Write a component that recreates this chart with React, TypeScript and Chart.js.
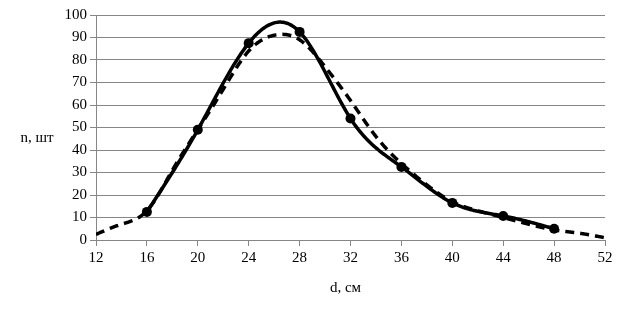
import React, { useEffect, useRef } from "react";
import { Chart, registerables } from "chart.js";

Chart.register(...registerables);

// Observed distribution (solid line with markers)
const observedD = [16, 20, 24, 28, 32, 36, 40, 44, 48];
const observedN = [12.5, 49, 87.5, 92.5, 54, 32.5, 16.5, 10.7, 5];

// Theoretical distribution (dashed line)
const theoryD = [12, 14, 16, 18, 20, 22, 24, 26, 28, 30, 32, 34, 36, 38, 40, 42, 44, 46, 48, 50, 52];
const theoryN = [2.5, 7, 13, 31, 49, 67, 84, 91, 89, 77, 62, 46, 34, 24.5, 17, 13, 10, 7, 4.5, 3, 1];

const xTicks = { min: 12, max: 52, step: 4 };
const yTicks = { min: 0, max: 100, step: 10 };

const xTitle = "d, см";
const yTitle = "n, шт";

const FONT = '"Liberation Serif", "Times New Roman", serif';
const GRID = "rgb(134,134,134)";

// natural cubic spline second derivatives
function splineM(xs: number[], ys: number[]): number[] {
  const n = xs.length;
  const M = new Array(n).fill(0);
  if (n < 3) return M;
  const a: number[] = [], b: number[] = [], c: number[] = [], d: number[] = [];
  for (let i = 1; i < n - 1; i++) {
    const h0 = xs[i] - xs[i - 1];
    const h1 = xs[i + 1] - xs[i];
    a.push(h0);
    b.push(2 * (h0 + h1));
    c.push(h1);
    d.push(6 * ((ys[i + 1] - ys[i]) / h1 - (ys[i] - ys[i - 1]) / h0));
  }
  const m = b.length;
  const cp = new Array(m).fill(0), dp = new Array(m).fill(0);
  for (let i = 0; i < m; i++) {
    const den = b[i] - (i > 0 ? a[i] * cp[i - 1] : 0);
    cp[i] = c[i] / den;
    dp[i] = (d[i] - (i > 0 ? a[i] * dp[i - 1] : 0)) / den;
  }
  for (let i = m - 1; i >= 0; i--) {
    M[i + 1] = dp[i] - (i < m - 1 ? cp[i] * M[i + 2] : 0);
  }
  return M;
}

function strokeSpline(chart: any, xs: number[], ys: number[], dash: number[]) {
  const ctx = chart.ctx;
  const sx = chart.scales.x, sy = chart.scales.y;
  const M = splineM(xs, ys);
  ctx.save();
  const a = chart.chartArea;
  ctx.beginPath();
  ctx.rect(a.left, a.top - 10, a.right - a.left, a.bottom - a.top + 10);
  ctx.clip();
  ctx.beginPath();
  let first = true;
  for (let i = 0; i < xs.length - 1; i++) {
    const x0 = xs[i], x1 = xs[i + 1], h = x1 - x0;
    const steps = 40;
    for (let k = i === 0 ? 0 : 1; k <= steps; k++) {
      const x = x0 + (h * k) / steps;
      const A = x1 - x, B = x - x0;
      const y =
        (M[i] * A * A * A) / (6 * h) +
        (M[i + 1] * B * B * B) / (6 * h) +
        (ys[i] / h - (M[i] * h) / 6) * A +
        (ys[i + 1] / h - (M[i + 1] * h) / 6) * B;
      const px = sx.getPixelForValue(x), py = sy.getPixelForValue(y);
      if (first) { ctx.moveTo(px, py); first = false; } else ctx.lineTo(px, py);
    }
  }
  ctx.strokeStyle = "#000";
  ctx.lineWidth = 3.5;
  ctx.lineCap = "butt";
  ctx.lineJoin = "round";
  ctx.setLineDash(dash);
  ctx.stroke();
  ctx.restore();
}

export default function App() {
  const ref = useRef<HTMLCanvasElement | null>(null);

  useEffect(() => {
    if (!ref.current) return;
    const plug = {
      id: "splinesAndTitles",
      beforeDatasetsDraw(chart: any) {
        strokeSpline(chart, theoryD, theoryN, [9, 6]);
        strokeSpline(chart, observedD, observedN, []);
      },
      afterDraw(chart: any) {
        const ctx = chart.ctx;
        const a = chart.chartArea;
        ctx.save();
        ctx.fillStyle = "#000";
        ctx.font = `15px ${FONT}`;
        ctx.textAlign = "center";
        ctx.textBaseline = "alphabetic";
        ctx.fillText(yTitle, 37, 142);
        ctx.fillText(xTitle, (a.left + a.right) / 2 - 5, a.bottom + 52);
        ctx.restore();
      },
    };
    const chart = new Chart(ref.current, {
      type: "line",
      data: {
        datasets: [
          {
            label: "observed",
            data: observedD.map((d, i) => ({ x: d, y: observedN[i] })),
            borderColor: "#000",
            backgroundColor: "#000",
            showLine: false,
            pointRadius: 5,
            pointBorderWidth: 0,
          },
          {
            label: "theory",
            data: theoryD.map((d, i) => ({ x: d, y: theoryN[i] })),
            borderColor: "#000",
            showLine: false,
            pointRadius: 0,
          },
        ],
      },
      options: {
        animation: false,
        responsive: true,
        maintainAspectRatio: false,
        layout: { padding: { top: 15, right: 29, left: 0, bottom: 0 } },
        plugins: { legend: { display: false }, tooltip: { enabled: false } },
        scales: {
          x: {
            type: "linear",
            min: xTicks.min,
            max: xTicks.max,
            afterFit(scale: any) {
              scale.height = 76;
            },
            ticks: {
              stepSize: xTicks.step,
              color: "#000",
              font: { family: FONT, size: 15 },
              padding: 3,
              maxRotation: 0,
            },
            grid: {
              drawOnChartArea: false,
              drawTicks: true,
              tickLength: 6,
              color: GRID,
            },
            border: { display: true, color: GRID, width: 1 },
          },
          y: {
            type: "linear",
            min: yTicks.min,
            max: yTicks.max,
            afterFit(scale: any) {
              scale.width = 96;
            },
            ticks: {
              stepSize: yTicks.step,
              color: "#000",
              font: { family: FONT, size: 15 },
              padding: 3,
            },
            grid: {
              drawOnChartArea: true,
              drawTicks: true,
              tickLength: 6,
              color: GRID,
            },
            border: { display: true, color: GRID, width: 1 },
          },
        },
      },
      plugins: [plug],
    });
    return () => chart.destroy();
  }, []);

  return (
    <div style={{ position: "fixed", left: 0, top: 0, width: 634, height: 316, background: "#fff" }}>
      <canvas ref={ref} />
    </div>
  );
}
